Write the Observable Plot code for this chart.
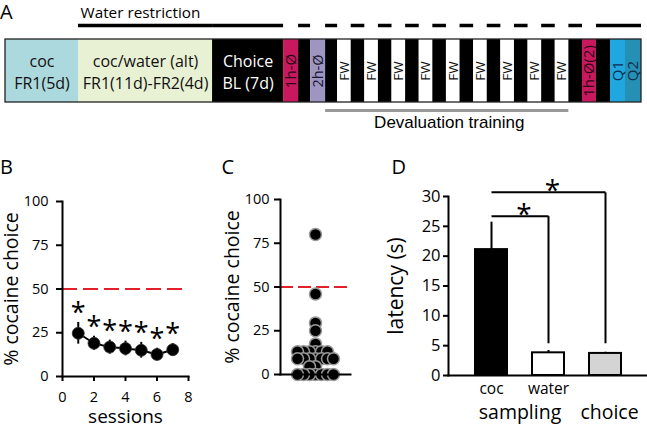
<!DOCTYPE html>
<html><head><meta charset="utf-8">
<script src="https://cdn.jsdelivr.net/npm/d3@7"></script>
<script src="https://cdn.jsdelivr.net/npm/@observablehq/plot@0.6"></script>
<style>
html,body{margin:0;padding:0;background:#fff;}
#fig{position:relative;width:647px;height:426px;overflow:hidden;font-family:"Open Sans",sans-serif;color:#000;background:#fff;}
.panel{position:absolute;}
.letter{position:absolute;font-size:20px;line-height:24px;font-family:"Open Sans",sans-serif;}
</style></head><body><div id="fig"></div>
<script>
// ---------- Panel A: protocol timeline ----------
const phaseKind = ["coc","alt","choice","sat1","gap","sat2","gap",
  "fw","gap","fw","gap","fw","gap","fw","gap","fw","gap","fw","gap","fw","gap","fw","gap","fw","gap",
  "sat1","gap","q1","q2"];
const phaseSpan = [73,134,71,15,12,15,12,
  13.6,13.6,13.6,13.6,13.6,13.6,13.6,13.6,13.6,13.6,13.6,13.6,13.6,13.6,13.6,13.6,13.6,13.6,
  14,14,15,16];
const phaseText = ["coc\nFR1(5d)","coc/water (alt)\nFR1(11d)-FR2(4d)","Choice\nBL (7d)","1h-Ø","","2h-Ø","",
  "FW","","FW","","FW","","FW","","FW","","FW","","FW","","FW","","FW","",
  "1h-Ø(2)","","Q1","Q2"];
const phaseWater = ["","solid","solid","","dash","","dash",
  "","dash","","dash","","dash","","dash","","dash","","dash","","dash","","dash","","dash",
  "","solid","solid","solid"];
const phaseDevaluation = [0,0,0,0,0,0,1,
  1,1,1,1,1,1,1,1,1,1,1,1,1,1,1,1,1,0,
  0,0,0,0];
const waterLabel = "Water restriction";
const devLabel = "Devaluation training";

// ---------- Panel B: % cocaine choice across sessions ----------
const bSessions = [1,2,3,4,5,6,7];
const bMean = [24.7,19,16.8,16,15,12.6,15.3];
const bErr = [6.2,4,4,4.2,4.5,3.5,3.5];
const bTicksX = [0,2,4,6,8];
const pctTicks = [0,25,50,75,100];
const indifference = 50;

// ---------- Panel C: individual % cocaine choice ----------
const cValues = [80,46,29.5,25,17.5,
  13,13,13,13,13,13,
  9,9,9,9,9,9,9,
  4.5,4.5,
  0,0,0,0,0,0,0];

// ---------- Panel D: latency ----------
const dCats = ["coc","water","choice"];
const dTickText = ["coc","water",""];
const dMean = [21.1,3.8,3.7];
const dErr = [4.6,0.4,0.2];
const dGroups = ["sampling","choice"];
const dGroupFirst = ["coc","choice"];
const dGroupSpan = [2,1];
const dTicks = [0,5,10,15,20,25,30];
const compFrom = ["coc","coc"];
const compTo = ["water","choice"];
const compTop = [26.7,30.7];
const compEnd = [5.4,5.4];

// ---------- build ----------
const fig = document.getElementById("fig");
const baseStyle = {fontFamily:'"Open Sans", sans-serif', fontSize:"14.5px", color:"#000", background:"transparent", overflow:"visible"};
function place(node, left, top){ node.classList.add("panel"); node.style.left = left+"px"; node.style.top = top+"px"; fig.appendChild(node); }
function letter(t, left, top){ const d = document.createElement("div"); d.className="letter"; d.textContent=t; d.style.left=left+"px"; d.style.top=top+"px"; fig.appendChild(d); }

// Panel A
let acc = 0;
const phases = phaseKind.map((k,i) => { const s = acc; acc += phaseSpan[i];
  return {kind:k, start:s, end:acc, mid:(s+acc)/2, text:phaseText[i], water:phaseWater[i], dev:phaseDevaluation[i]}; });
const total = acc;
const kindFill = {coc:"#acd9dd", alt:"#e9f1d4", choice:"#000", sat1:"#c8185e", gap:"#000", sat2:"#9e95c1", fw:"#fff", q1:"#20a7df", q2:"#2690b4"};
const kindInk = {coc:"#111", alt:"#111", choice:"#fff", sat1:"#2a0a14", sat2:"#1a1630", fw:"#111", q1:"#0d2d4d", q2:"#0d2d4d", gap:"#fff"};
const kindSize = {sat1:15, sat2:14.5, fw:13.5, q1:15, q2:15};
const devPh = phases.filter(d => d.dev);
const devStart = devPh[0].start, devEnd = devPh[devPh.length-1].end;
const boxTop = 39, boxBottom = 102, boxMid = 70.5;
const rotated = phases.filter(d=>d.text && !d.text.includes("\n"));

const A = Plot.plot({
  width:647, height:140, marginLeft:5, marginRight:6, marginTop:0, marginBottom:0,
  x:{domain:[0,total], axis:null},
  y:{domain:[0,140], range:[0,140], axis:null},
  color:{type:"identity"},
  style: baseStyle,
  marks:[
    Plot.rect(phases, {x1:"start", x2:"end", y1:boxTop, y2:boxBottom, fill:d=>kindFill[d.kind]}),
    Plot.rect([0], {x1:0, x2:total, y1:boxTop, y2:boxBottom, fill:"none", stroke:"#222", strokeWidth:1.3}),
    Plot.text(phases.filter(d=>d.text.includes("\n")), {x:"mid", y:boxMid, text:"text", fill:d=>kindInk[d.kind], fontSize:16, lineHeight:1.35}),
    ...Object.keys(kindSize).map(k => Plot.text(rotated.filter(d=>d.kind===k), {x:"mid", y:boxMid, text:"text", rotate:-90, fill:d=>kindInk[d.kind], fontSize:kindSize[k]})),
    Plot.ruleY(phases.filter(d=>d.water), {y:25, x1:"start", x2:"end", stroke:"#000", strokeWidth:3.5}),
    Plot.text([waterLabel], {x:phases[1].start, y:12.5, text:d=>d, textAnchor:"start", dx:2, fontSize:15.3}),
    Plot.ruleY([0], {y:110, x1:devStart, x2:devEnd, stroke:"#999", strokeWidth:3}),
    Plot.text([devLabel], {x:(devStart+devEnd)/2, y:122, text:d=>d, dx:2, fontFamily:"Liberation Sans", fontSize:17})
  ]
});
place(A, 0, 0);
letter("A", 0, -0.5);

// Panel B
const bData = bSessions.map((s,i)=>({s, m:bMean[i], e:bErr[i]}));
const red = "#e3202a";
const B = Plot.plot({
  width:200, height:246, marginLeft:62, marginRight:12, marginTop:21, marginBottom:50,
  x:{domain:[0,8]}, y:{domain:[0,100]},
  style: baseStyle,
  marks:[
    Plot.ruleY([indifference], {stroke:red, strokeWidth:2, strokeDasharray:"15,6"}),
    Plot.ruleX(bData, {x:"s", y1:d=>d.m-d.e, y2:d=>d.m+d.e, strokeWidth:2}),
    Plot.line(bData, {x:"s", y:"m", strokeWidth:2}),
    Plot.dot(bData, {x:"s", y:"m", r:6, fill:"#000", stroke:"#333", strokeWidth:0.8}),
    Plot.text(bData, {x:"s", y:d=>d.m+d.e+9, text:()=>"*", fontSize:27, dy:7}),
    Plot.axisX({ticks:bTicksX, tickSize:5, tickPadding:10, strokeWidth:2, label:null}),
    Plot.axisY({ticks:pctTicks, tickSize:6, tickPadding:8, strokeWidth:2, label:null}),
    Plot.frame({anchor:"left", strokeWidth:2}),
    Plot.frame({anchor:"bottom", strokeWidth:2}),
    Plot.text(["% cocaine choice"], {frameAnchor:"left", rotate:-90, textAnchor:"middle", lineAnchor:"middle", dx:-50.5, text:d=>d, fontSize:19.5}),
    Plot.text(["sessions"], {frameAnchor:"bottom", textAnchor:"middle", lineAnchor:"middle", dy:40.5, text:d=>d, fontSize:19})
  ]
});
place(B, 0, 180);
letter("B", 0, 154.5);

// Panel C
const C = Plot.plot({
  width:180, height:246, marginLeft:90, marginRight:20, marginTop:19, marginBottom:52,
  y:{domain:[0,100]},
  style: baseStyle,
  marks:[
    Plot.ruleY([indifference], {stroke:red, strokeWidth:2, strokeDasharray:"13,5"}),
    Plot.dot(cValues, Plot.dodgeX({anchor:"middle", padding:-6}, {y:d=>d, r:6, fill:"#000", stroke:"#999", strokeWidth:1.5})),
    Plot.axisY({ticks:pctTicks, tickSize:6, tickPadding:5, strokeWidth:2, label:null}),
    Plot.frame({anchor:"left", strokeWidth:2}),
    Plot.frame({anchor:"bottom", strokeWidth:2}),
    Plot.text(["% cocaine choice"], {frameAnchor:"left", rotate:-90, textAnchor:"middle", lineAnchor:"middle", dx:-47.5, text:d=>d, fontSize:19.5})
  ]
});
place(C, 190, 180);
letter("C", 221.5, 154.5);

// Panel D
const dRange = [82.5, 253.5];
const dStep = (dRange[1]-dRange[0]) / dCats.length;
const dData = dCats.map((c,i)=>({c, m:dMean[i], e:dErr[i]}));
const barFill = {coc:"#000", water:"#fff", choice:"#d4d4d4"};
const comps = compFrom.map((a,i)=>({a, b:compTo[i], h:compTop[i], end:compEnd[i]}));
const tickLab = Object.fromEntries(dCats.map((c,i)=>[c, dTickText[i]]));
const D = Plot.plot({
  width:267, height:246, marginLeft:68, marginRight:0, marginTop:16, marginBottom:51,
  x:{type:"band", domain:dCats, range:dRange, paddingInner:0.44, paddingOuter:0.22},
  y:{domain:[0,30]},
  color:{type:"identity"},
  style: baseStyle,
  marks:[
    Plot.ruleX(dData, {x:"c", y1:"m", y2:d=>d.m+d.e, strokeWidth:2}),
    Plot.barY(dData, {x:"c", y:"m", fill:d=>barFill[d.c], stroke:"#000", strokeWidth:2}),
    Plot.link(comps, {x1:"a", x2:"b", y1:"h", y2:"h", strokeWidth:2}),
    Plot.link(comps, {x1:"b", x2:"b", y1:"h", y2:"end", strokeWidth:2}),
    ...comps.map(c => Plot.text([c], {x:"a", y:d=>d.h+1.4, text:()=>"*", fontSize:28, dy:7,
        dx:(dCats.indexOf(c.b)-dCats.indexOf(c.a))*dStep/2 + 4})),
    Plot.axisX({tickSize:0, tickPadding:7, tickFormat:d=>tickLab[d], fontSize:15.5, label:null}),
    Plot.axisY({ticks:dTicks, tickSize:5, tickPadding:3, strokeWidth:2, fontSize:16.5, label:null}),
    Plot.frame({anchor:"left", strokeWidth:2}),
    Plot.frame({anchor:"bottom", strokeWidth:2}),
    ...dGroups.map((g,i) => Plot.text([g], {x:()=>dGroupFirst[i], frameAnchor:"bottom", textAnchor:"middle", lineAnchor:"middle", dy:37,
        dx:(dGroupSpan[i]-1)*dStep/2 + (i===1?4:0), text:d=>d, fontSize:19.5})),
    Plot.text(["latency (s)"], {frameAnchor:"left", rotate:-90, textAnchor:"middle", lineAnchor:"middle", dx:-52, text:d=>d, fontSize:21})
  ]
});
place(D, 380, 180);
letter("D", 391.5, 154.5);
</script>
</body></html>
